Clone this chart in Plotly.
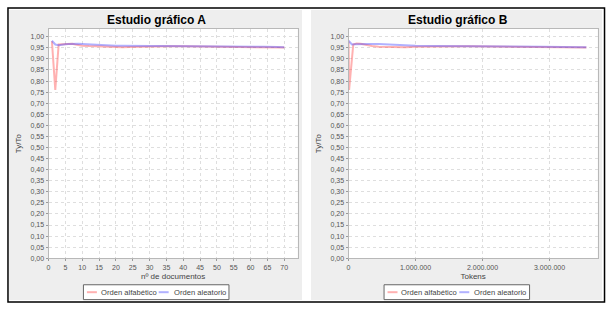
import plotly.graph_objects as go

W, H = 613, 315

# ---- data: chart A (x = nº de documentos) ----
docs_a = [1, 2, 3, 4, 5, 6, 7, 8, 9, 10, 12, 14, 16, 18, 20, 22, 24, 26, 28, 30,
          33, 36, 40, 44, 48, 52, 56, 60, 64, 68, 70]
alfa_a = [0.980, 0.760, 0.965, 0.966, 0.968, 0.970, 0.968, 0.965, 0.962, 0.960,
          0.958, 0.957, 0.955, 0.953, 0.951, 0.953, 0.954, 0.955, 0.955, 0.956,
          0.957, 0.957, 0.957, 0.956, 0.956, 0.955, 0.955, 0.954, 0.953, 0.952, 0.951]
alea_a = [0.982, 0.965, 0.962, 0.965, 0.966, 0.967, 0.968, 0.968, 0.968, 0.967,
          0.965, 0.963, 0.962, 0.961, 0.960, 0.960, 0.959, 0.958, 0.958, 0.958,
          0.958, 0.958, 0.958, 0.957, 0.957, 0.956, 0.956, 0.955, 0.955, 0.954, 0.953]

# ---- data: chart B (x = Tokens) ----
tok_alfa_b = [0, 8000, 70000, 120000, 180000, 250000, 350000, 450000, 600000,
              750000, 850000, 1000000, 1200000, 1500000, 1800000, 2100000,
              2400000, 2700000, 3000000, 3300000, 3550000]
alfa_b = [0.980, 0.760, 0.965, 0.970, 0.968, 0.963, 0.958, 0.955, 0.953,
          0.951, 0.953, 0.955, 0.956, 0.957, 0.957, 0.956, 0.955, 0.955,
          0.954, 0.953, 0.951]
tok_alea_b = [0, 50000, 100000, 200000, 300000, 450000, 600000, 800000, 1000000,
              1300000, 1600000, 2000000, 2300000, 2600000, 2900000, 3200000, 3550000]
alea_b = [0.982, 0.965, 0.966, 0.968, 0.967, 0.967, 0.965, 0.961, 0.959,
          0.958, 0.958, 0.958, 0.957, 0.956, 0.955, 0.954, 0.953]

titles = ["Estudio gráfico A", "Estudio gráfico B"]
xtitles = ["nº de documentos", "Tokens"]
ytitle = "Ty/To"
series_names = ["Orden alfabético", "Orden aleatorio"]

RED = "rgba(255,70,70,0.42)"
BLUE = "rgba(70,70,255,0.42)"
SERIES_COLORS = [RED, BLUE]
FONT = "Liberation Sans"


def px(x):
    return x / W


def py(y):
    return 1 - y / H


fig = go.Figure()
fig.add_trace(go.Scatter(x=docs_a, y=alfa_a, mode="lines", name=series_names[0],
                         line=dict(color=RED, width=2), xaxis="x", yaxis="y"))
fig.add_trace(go.Scatter(x=docs_a, y=alea_a, mode="lines", name=series_names[1],
                         line=dict(color=BLUE, width=2), xaxis="x", yaxis="y"))
fig.add_trace(go.Scatter(x=tok_alfa_b, y=alfa_b, mode="lines", name=series_names[0],
                         line=dict(color=RED, width=2), xaxis="x2", yaxis="y2"))
fig.add_trace(go.Scatter(x=tok_alea_b, y=alea_b, mode="lines", name=series_names[1],
                         line=dict(color=BLUE, width=2), xaxis="x2", yaxis="y2"))

tickfont = dict(family=FONT, size=7, color="#555555")
titlefont = dict(family=FONT, size=8, color="#444444")
axis_common = dict(showline=True, linecolor="#b8b8b8", linewidth=1, mirror=True,
                   showgrid=True, gridcolor="#dedede", griddash="dot", gridwidth=1,
                   zeroline=False, ticks="outside", ticklen=2, tickcolor="#999999",
                   tickfont=tickfont)

PLOT_X = [(46.7, 296.7), (347.7, 597.7)]
PLOT_Y = (29.3, 260.7)
yd = [py(PLOT_Y[1]), py(PLOT_Y[0])]
fig.update_layout(
    width=W, height=H, margin=dict(l=0, r=0, t=0, b=0),
    paper_bgcolor="white", plot_bgcolor="white",
    separators=",.",
    showlegend=False,
    xaxis=dict(domain=[px(PLOT_X[0][0]), px(PLOT_X[0][1])], range=[0, 74], dtick=5, tick0=0,
               anchor="y", title=dict(text=xtitles[0], font=titlefont, standoff=3),
               **axis_common),
    yaxis=dict(domain=yd, range=[0, 1.035], dtick=0.05, tickformat=".2f", anchor="x",
               title=dict(text=ytitle, font=titlefont, standoff=7),
               **axis_common),
    xaxis2=dict(domain=[px(PLOT_X[1][0]), px(PLOT_X[1][1])], range=[0, 3720000], dtick=1000000,
                tick0=0, tickformat=",d", anchor="y2",
                title=dict(text=xtitles[1], font=titlefont, standoff=3),
                **axis_common),
    yaxis2=dict(domain=yd, range=[0, 1.035], dtick=0.05, tickformat=".2f", anchor="x2",
                title=dict(text=ytitle, font=titlefont, standoff=7),
                **axis_common),
)

shapes = [
    dict(type="rect", xref="paper", yref="paper", x0=px(7), x1=px(301), y0=py(303), y1=py(10),
         fillcolor="#eeeeee", line=dict(width=0), layer="below"),
    dict(type="rect", xref="paper", yref="paper", x0=px(310), x1=px(602), y0=py(303), y1=py(10),
         fillcolor="#eeeeee", line=dict(width=0), layer="below"),
    dict(type="rect", xref="paper", yref="paper", x0=px(6), x1=px(604.5), y0=py(305), y1=py(8),
         fillcolor="rgba(0,0,0,0)", line=dict(color="black", width=1.5), layer="above"),
]
for x0, x1 in PLOT_X:
    shapes.append(dict(type="rect", xref="paper", yref="paper", x0=px(x0), x1=px(x1),
                       y0=py(PLOT_Y[1]), y1=py(PLOT_Y[0]), fillcolor="white",
                       line=dict(width=0), layer="below"))

# legends (one per panel), drawn as box + line samples + text
legend_left = [81.7, 383.3]
sample_off = [(3.5, 13.5), (75.5, 85.5)]
text_off = [15.5, 88.5]
for li, bx in enumerate(legend_left):
    shapes.append(dict(type="rect", xref="paper", yref="paper",
                       x0=px(bx), x1=px(bx + 146), y0=py(302.5), y1=py(287.5),
                       fillcolor="white", line=dict(color="#666666", width=1), layer="above"))
    for si, name in enumerate(series_names):
        a, b = sample_off[si]
        shapes.append(dict(type="line", xref="paper", yref="paper",
                           x0=px(bx + a), x1=px(bx + b), y0=py(295), y1=py(295),
                           line=dict(color=SERIES_COLORS[si], width=2), layer="above"))
        fig.add_annotation(text=name, xref="paper", yref="paper",
                           x=px(bx + text_off[si]), y=py(295), xanchor="left", yanchor="middle",
                           showarrow=False, font=dict(family=FONT, size=7.6, color="#444444"))

fig.update_layout(shapes=shapes)

title_x = [155, 457]
for t, tx in zip(titles, title_x):
    fig.add_annotation(text="<b>" + t + "</b>", xref="paper", yref="paper",
                       x=px(tx), y=py(20), xanchor="center", yanchor="middle", showarrow=False,
                       font=dict(family=FONT, size=12, color="black"))

fig.write_html("out.html", config={"displayModeBar": False},
               post_script="document.body.style.margin='0';document.body.style.overflow='hidden';")
